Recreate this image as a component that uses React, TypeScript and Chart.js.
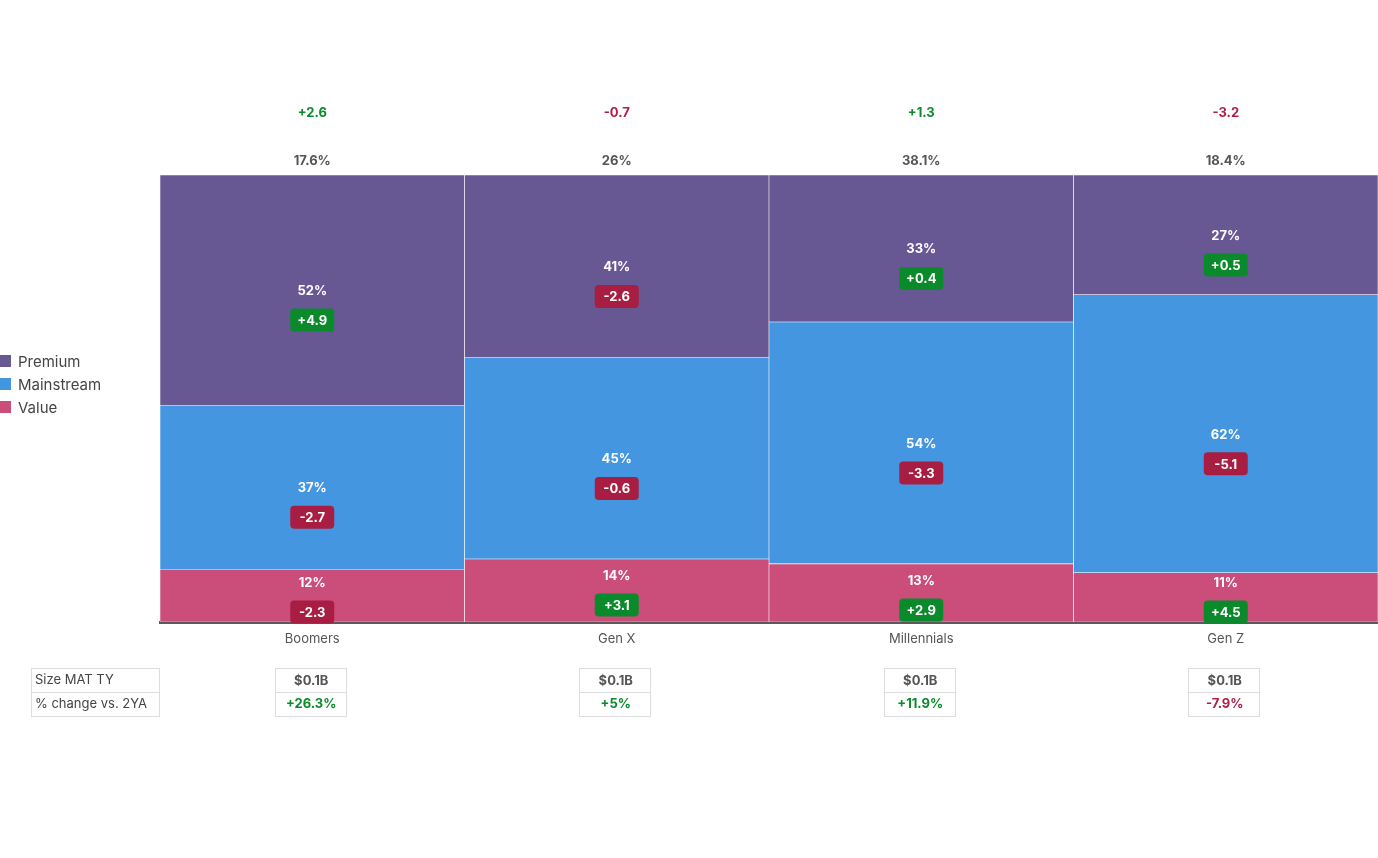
import React, { useEffect, useRef } from "react";
import { Chart, registerables } from "chart.js";

Chart.register(...registerables);

const categories = ["Boomers", "Gen X", "Millennials", "Gen Z"];
const premiumShare = [51.5, 40.9, 32.9, 26.8];
const mainstreamShare = [36.7, 45.0, 54.1, 62.2];
const valueShare = [11.8, 14.1, 13.0, 11.0];
const premiumChange = [4.9, -2.6, 0.4, 0.5];
const mainstreamChange = [-2.7, -0.6, -3.3, -5.1];
const valueChange = [-2.3, 3.1, 2.9, 4.5];
const columnShare = [17.6, 26, 38.1, 18.4];
const columnShareChange = [2.6, -0.7, 1.3, -3.2];
const sizeMatTy = ["$0.1B", "$0.1B", "$0.1B", "$0.1B"];
const sizeChange = [26.3, 5, 11.9, -7.9];
const tableRowLabels = ["Size MAT TY", "% change vs. 2YA"];

const COLORS = {
  premium: "#675894",
  mainstream: "#4596e0",
  value: "#cb4d7a",
  green: "#0b8a2c",
  red: "#a81e42",
  redText: "#b01e45",
  gray: "#555555",
};
const FONT = "Inter, 'Liberation Sans', sans-serif";

const fmtChange = (v: number) => (v > 0 ? "+" : "") + v;

function roundRect(ctx: CanvasRenderingContext2D, x: number, y: number, w: number, h: number, r: number) {
  ctx.beginPath();
  ctx.moveTo(x + r, y);
  ctx.lineTo(x + w - r, y);
  ctx.quadraticCurveTo(x + w, y, x + w, y + r);
  ctx.lineTo(x + w, y + h - r);
  ctx.quadraticCurveTo(x + w, y + h, x + w - r, y + h);
  ctx.lineTo(x + r, y + h);
  ctx.quadraticCurveTo(x, y + h, x, y + h - r);
  ctx.lineTo(x, y + r);
  ctx.quadraticCurveTo(x, y, x + r, y);
  ctx.closePath();
}

const overlayPlugin = {
  id: "overlay",
  afterDraw(chart: any) {
    const ctx: CanvasRenderingContext2D = chart.ctx;
    const xScale = chart.scales.x;
    const area = chart.chartArea;
    ctx.save();
    ctx.textAlign = "center";
    ctx.textBaseline = "middle";

    // segment labels + badges
    chart.data.datasets.forEach((ds: any, di: number) => {
      const meta = chart.getDatasetMeta(di);
      meta.data.forEach((bar: any, i: number) => {
        const top = Math.min(bar.y, bar.base);
        const bottom = Math.max(bar.y, bar.base);
        const h = bottom - top;
        let labelY: number, badgeY: number;
        if (h >= 100) {
          labelY = (top + bottom) / 2;
          badgeY = labelY + 30;
        } else {
          badgeY = Math.min(top + 46, bottom - 10);
          labelY = badgeY - 30;
        }
        const val = ds.data[i];
        const chg = ds.changes[i];
        ctx.font = `bold 13px ${FONT}`;
        ctx.fillStyle = "#ffffff";
        ctx.fillText(Math.round(val) + "%", bar.x, labelY + 1);
        const bw = 44, bh = 23;
        ctx.fillStyle = chg >= 0 ? COLORS.green : COLORS.red;
        roundRect(ctx, bar.x - bw / 2, badgeY - bh / 2, bw, bh, 4);
        ctx.fill();
        ctx.fillStyle = "#ffffff";
        ctx.fillText(fmtChange(chg), bar.x, badgeY + 1);
      });
    });

    // top labels
    categories.forEach((_, i) => {
      const x = xScale.getPixelForValue(i);
      ctx.font = `bold 13px ${FONT}`;
      ctx.fillStyle = COLORS.gray;
      ctx.fillText(columnShare[i] + "%", x, area.top - 14);
      ctx.fillStyle = columnShareChange[i] >= 0 ? COLORS.green : COLORS.redText;
      ctx.fillText(fmtChange(columnShareChange[i]), x, area.top - 62);
    });

    // legend
    const legendItems = [
      { label: "Premium", color: COLORS.premium },
      { label: "Mainstream", color: COLORS.mainstream },
      { label: "Value", color: COLORS.value },
    ];
    ctx.textAlign = "left";
    ctx.font = `15px ${FONT}`;
    legendItems.forEach((it, k) => {
      const cy = 361 + k * 23;
      ctx.fillStyle = it.color;
      ctx.fillRect(0, cy - 6, 11, 12);
      ctx.fillStyle = "#444444";
      ctx.fillText(it.label, 18, cy + 1);
    });

    // table
    const rowTop = 668, rowH = 23.5;
    ctx.strokeStyle = "#dddddd";
    ctx.lineWidth = 1;
    ctx.font = `13px ${FONT}`;
    tableRowLabels.forEach((lab, r) => {
      const y = rowTop + r * rowH;
      ctx.strokeRect(31.5, Math.round(y) + 0.5, 128, Math.round(rowH));
      ctx.fillStyle = "#444444";
      ctx.textAlign = "left";
      ctx.fillText(lab, 35, y + rowH / 2 + 0.5);
    });
    ctx.textAlign = "center";
    categories.forEach((_, i) => {
      const x = xScale.getPixelForValue(i) - 1;
      const w = 71;
      for (let r = 0; r < 2; r++) {
        const y = rowTop + r * rowH;
        ctx.strokeRect(Math.round(x - w / 2) - 0.5, Math.round(y) + 0.5, w, Math.round(rowH));
      }
      ctx.font = `bold 13px ${FONT}`;
      ctx.fillStyle = COLORS.gray;
      ctx.fillText(sizeMatTy[i], x, rowTop + rowH / 2 + 1);
      ctx.fillStyle = sizeChange[i] >= 0 ? COLORS.green : COLORS.redText;
      ctx.fillText(fmtChange(sizeChange[i]) + "%", x, rowTop + rowH * 1.5 + 1);
    });
    ctx.restore();
  },
};

export default function App() {
  const ref = useRef<HTMLCanvasElement | null>(null);
  useEffect(() => {
    if (!ref.current) return;
    const mk = (label: string, data: number[], changes: number[], color: string) => ({
      label,
      data,
      changes,
      backgroundColor: color,
      borderColor: "rgba(255,255,255,0.9)",
      borderWidth: 0.6,
      borderSkipped: false,
      barPercentage: 1,
      categoryPercentage: 1,
    });
    const chart = new Chart(ref.current, {
      type: "bar",
      data: {
        labels: categories,
        datasets: [
          mk("Value", valueShare, valueChange, COLORS.value),
          mk("Mainstream", mainstreamShare, mainstreamChange, COLORS.mainstream),
          mk("Premium", premiumShare, premiumChange, COLORS.premium),
        ] as any,
      },
      options: {
        responsive: false,
        animation: false,
        devicePixelRatio: 1,
        layout: { padding: { left: 160, top: 175, right: 0, bottom: 0 } },
        plugins: { legend: { display: false }, tooltip: { enabled: false } },
        scales: {
          x: {
            stacked: true,
            grid: { display: false, drawTicks: false },
            border: { display: true, color: "#5a5a5a", width: 3 },
            ticks: { color: "#555555", font: { family: FONT, size: 13 }, padding: 9 },
            afterFit: (s: any) => {
              s.height = 236;
            },
          },
          y: { stacked: true, display: false, min: 0, max: 100 },
        },
      } as any,
      plugins: [overlayPlugin],
    });
    return () => chart.destroy();
  }, []);
  return (
    <div style={{ position: "absolute", left: 0, top: 0, width: 1378, height: 858, background: "#fff" }}>
      <canvas ref={ref} width={1378} height={858} />
    </div>
  );
}
